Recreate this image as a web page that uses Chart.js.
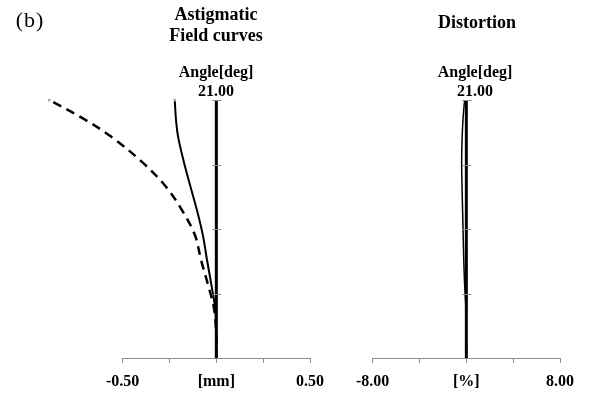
<!DOCTYPE html>
<html>
<head>
<meta charset="utf-8">
<script src="https://cdn.jsdelivr.net/npm/chart.js@4.4.0/dist/chart.umd.min.js"></script>
<style>
  html, body { margin: 0; padding: 0; background: #fff; }
  #wrap { position: relative; width: 595px; height: 393px; overflow: hidden; font-family: "Liberation Serif", "DejaVu Serif", serif; color: #000; }
  canvas { position: absolute; top: 0; }
  .t { position: absolute; text-align: center; font-weight: bold; white-space: nowrap; }
</style>
</head>
<body>
<div id="wrap">
  <canvas id="field" width="334" height="393" style="left:0"></canvas>
  <canvas id="dist" width="265" height="393" style="left:330px"></canvas>

  <div class="t" style="left:10px;top:7px;width:40px;font-weight:normal;font-size:22px;line-height:26px;letter-spacing:1px;">(b)</div>
  <div class="t" style="left:146px;top:4px;width:140px;font-size:18px;line-height:21px;">Astigmatic<br>Field curves</div>
  <div class="t" style="left:156px;top:62px;width:120px;font-size:16px;line-height:19px;">Angle[deg]<br>21.00</div>
  <div class="t" style="left:407px;top:12px;width:140px;font-size:18px;line-height:21px;">Distortion</div>
  <div class="t" style="left:415px;top:62px;width:120px;font-size:16px;line-height:19px;">Angle[deg]<br>21.00</div>
</div>
<script>
// field angle (deg) shared by every curve
const fieldAngles = [0, 2, 4, 6, 8, 10, 12, 14, 16, 18, 19.5, 21];
// astigmatic field curves [mm]
const sagittalMm   = [0, -0.001, -0.006, -0.027, -0.050, -0.072, -0.103, -0.139, -0.174, -0.204, -0.216, -0.222];
const tangentialMm = [0, -0.001, -0.012, -0.045, -0.082, -0.114, -0.182, -0.272, -0.400, -0.560, -0.712, -0.892];
// distortion [%]
const distortionPct = [0, -0.01, -0.04, -0.15, -0.22, -0.27, -0.32, -0.37, -0.40, -0.36, -0.28, -0.15];

const axisAngles = [0, 21];
const angleTicks = [0, 5.25, 10.5, 15.75, 21];
const fieldTicks = [-0.5, -0.25, 0, 0.25, 0.5];
const fieldTickLabels = ['-0.50', '', '[mm]', '', '0.50'];
const distTicks = [-8, -4, 0, 4, 8];
const distTickLabels = ['-8.00', '', '[%]', '', '8.00'];

const pts = (xs, ys) => xs.map((v, i) => ({ x: v, y: ys[i] }));
const topDot = (n) => (c) => (c.dataIndex === n - 1 ? 1.5 : 0);

// draws the grey bottom axis between the first and last tick, and the small
// marks on the vertical 0 line
const axisPlugin = {
  id: 'axisPlugin',
  afterDatasetsDraw(chart, args, opts) {
    const { ctx, chartArea, scales } = chart;
    const xs = scales.x, ys = scales.y;
    ctx.save();
    ctx.strokeStyle = '#8c8c8c';
    ctx.lineWidth = 1;
    ctx.beginPath();
    ctx.moveTo(xs.getPixelForValue(opts.ticks[0]), chartArea.bottom + 0.5);
    ctx.lineTo(xs.getPixelForValue(opts.ticks[opts.ticks.length - 1]), chartArea.bottom + 0.5);
    ctx.stroke();
    const x0 = xs.getPixelForValue(0);
    angleTicks.forEach((a) => {
      const y = Math.round(ys.getPixelForValue(a)) + 0.5;
      ctx.beginPath();
      ctx.moveTo(x0 - 4, y);
      ctx.lineTo(x0 + 5, y);
      ctx.stroke();
    });
    ctx.restore();
  }
};

function makePanel(id, datasets, xmin, xmax, ticks, labels, padL, padR) {
  return new Chart(document.getElementById(id), {
    type: 'scatter',
    data: { datasets: datasets },
    options: {
      responsive: false,
      animation: false,
      devicePixelRatio: 1,
      layout: { padding: { left: padL, right: padR, top: 100, bottom: 0 } },
      plugins: { legend: { display: false }, tooltip: { enabled: false }, axisPlugin: { ticks: ticks } },
      scales: {
        x: {
          type: 'linear', min: xmin, max: xmax,
          afterBuildTicks: (s) => { s.ticks = ticks.map((v) => ({ value: v })); },
          afterFit: (s) => { s.height = 35; },
          border: { display: false },
          grid: { drawOnChartArea: false, drawTicks: true, tickLength: 5, color: '#8c8c8c' },
          ticks: {
            autoSkip: false, maxRotation: 0, padding: 9, color: '#000',
            font: { family: 'Liberation Serif', size: 16, weight: 'bold' },
            callback: (v, i) => labels[i]
          }
        },
        y: { type: 'linear', min: 0, max: 21, display: false }
      }
    },
    plugins: [axisPlugin]
  });
}

const axisLine = {
  data: pts([0, 0], axisAngles), showLine: true, borderColor: '#000', borderWidth: 3,
  pointRadius: 0, clip: false
};

makePanel('field', [
  axisLine,
  {
    data: pts(sagittalMm, fieldAngles), showLine: true, borderColor: '#000', borderWidth: 2,
    tension: 0.35, pointRadius: topDot(fieldAngles.length), pointBackgroundColor: '#aaa',
    pointBorderWidth: 0, clip: false
  },
  {
    data: pts(tangentialMm, fieldAngles), showLine: true, borderColor: '#000', borderWidth: 2.5,
    borderDash: [9, 6], tension: 0.35, pointRadius: topDot(fieldAngles.length),
    pointBackgroundColor: '#aaa', pointBorderWidth: 0, clip: false
  }
], -1.0, 0.5, fieldTicks, fieldTickLabels, 29, 24);

makePanel('dist', [
  axisLine,
  {
    data: pts(distortionPct, fieldAngles), showLine: true, borderColor: '#000', borderWidth: 1.5,
    tension: 0.35, pointRadius: 0, clip: false
  }
], -8, 8, distTicks, distTickLabels, 42.7, 35);
</script>
</body>
</html>
